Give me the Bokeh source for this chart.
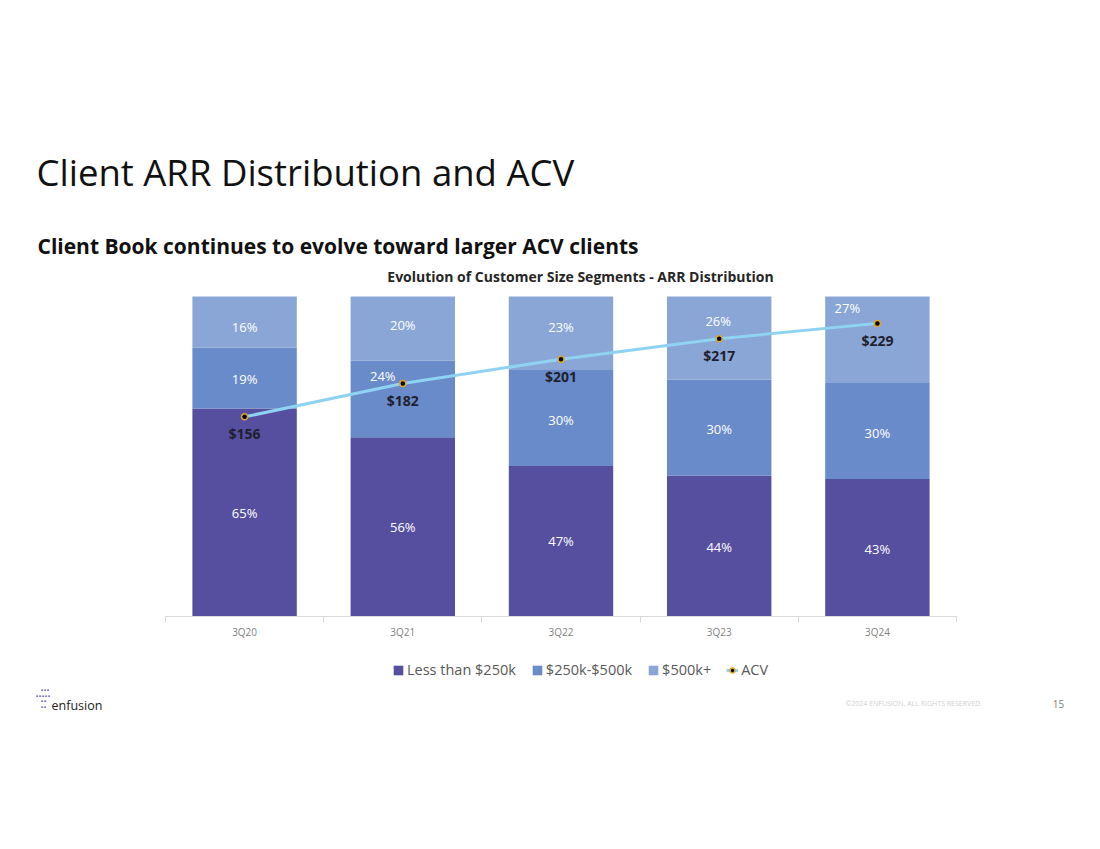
from bokeh.plotting import figure
from bokeh.models import (ColumnDataSource, Range1d, Label, Legend, LegendItem,
                          FixedTicker)
from bokeh.core.properties import value
from bokeh.embed import file_html
from bokeh.resources import INLINE

# ---------------- data ----------------
quarters = ["3Q20", "3Q21", "3Q22", "3Q23", "3Q24"]
less_250k = [65, 56, 47, 44, 43]
k250_500 = [19, 24, 30, 30, 30]
k500_plus = [16, 20, 23, 26, 27]
acv = [156, 182, 201, 217, 229]
segment_names = ["Less than $250k", "$250k-$500k", "$500k+"]

# ---------------- style / layout ----------------
colors = ["#564fa0", "#6a8bc9", "#8aa6d6"]
FONT = "Open Sans"
W, H = 1084, 833
BOTTOM = 40                 # border reserved for the x axis panel
FRAME_H = H - BOTTOM        # frame covers everything above
X0, CAT_W = 165.0, 158.2    # left edge of first category, px per category
Y0, PX_PCT = 616.0, 3.2     # baseline y (px from top), px per percent
PX_ACV = 1.28               # px per $k of ACV

n = len(quarters)
xs = [i + 0.5 for i in range(n)]
src = ColumnDataSource(dict(x=xs, q=quarters, a=less_250k, b=k250_500, c=k500_plus,
                            acv=acv, acv_lbl=["$%d" % v for v in acv]))

p = figure(width=W, height=H,
           x_range=Range1d(-X0 / CAT_W, (W - X0) / CAT_W),
           y_range=Range1d(-(FRAME_H - Y0) / PX_PCT, Y0 / PX_PCT),
           output_backend="svg", toolbar_location=None, y_axis_location=None,
           min_border_left=0, min_border_right=0, min_border_top=0, min_border_bottom=BOTTOM,
           background_fill_color="white", border_fill_color="white")
p.outline_line_color = None
p.xgrid.visible = False
p.ygrid.visible = False

bars = p.vbar_stack(["a", "b", "c"], x="x", width=0.66, color=colors, line_color=None, source=src)

# segment labels
seg_x, seg_y, seg_t, seg_dx, seg_dy = [], [], [], [], []
dx_off = [[0, 0, 0], [0, -20, 0], [0, 0, 0], [0, 0, -1], [0, 0, -30]]
dy_off = [[0, 1, 5], [0, -23, -4], [0, 2, -6], [1, 1, -17], [1, 2, -32]]
for i in range(n):
    vals = [less_250k[i], k250_500[i], k500_plus[i]]
    base = 0
    for j, v in enumerate(vals):
        seg_x.append(xs[i]); seg_y.append(base + v / 2); seg_t.append("%d%%" % v)
        seg_dx.append(dx_off[i][j]); seg_dy.append(dy_off[i][j])
        base += v
seg_src = ColumnDataSource(dict(x=seg_x, y=seg_y, t=seg_t, dx=seg_dx, dy=seg_dy))
p.text(x="x", y="y", text="t", x_offset="dx", y_offset="dy", source=seg_src,
       text_color="white", text_font=value(FONT), text_font_size="13px",
       text_align="center", text_baseline="middle")

# ACV line on secondary range
p.extra_y_ranges = {"acv": Range1d(-(FRAME_H - Y0) / PX_ACV, Y0 / PX_ACV)}
ln = p.line(x="x", y="acv", source=src, y_range_name="acv", line_color="#8fd3f2", line_width=3)
sc = p.scatter(x="x", y="acv", source=src, y_range_name="acv", size=6,
               fill_color="black", line_color="#e0a526", line_width=1.5)
p.text(x="x", y="acv", text="acv_lbl", source=src, y_range_name="acv", y_offset=17,
       text_color="#1f1f2e", text_font=value(FONT), text_font_size="14px",
       text_font_style="bold", text_align="center", text_baseline="middle")

# x axis fixed at the baseline
ax = p.xaxis[0]
ax.fixed_location = 0
ax.bounds = (0, n)
ax.ticker = FixedTicker(ticks=xs, minor_ticks=list(range(n + 1)))
ax.major_label_overrides = {x: q for x, q in zip(xs, quarters)}
ax.axis_line_color = "#d9d9d9"
ax.major_tick_line_color = None
ax.major_tick_in = 0
ax.major_tick_out = 0
ax.minor_tick_line_color = "#d9d9d9"
ax.minor_tick_in = 0
ax.minor_tick_out = 6
ax.major_label_text_color = "#7f7f7f"
ax.major_label_text_font = FONT
ax.major_label_text_font_size = "10px"
ax.major_label_standoff = 2

# page texts: screen units relative to frame bottom-left (X, Y = px from page top-left)
def lbl(X, Y, text, size, color, style="normal", align="left"):
    p.add_layout(Label(x=X, y=FRAME_H - Y, x_units="screen", y_units="screen", text=text,
                       text_font=FONT, text_font_size=size, text_color=color,
                       text_font_style=style, text_align=align, text_baseline="middle"))

# legend
legend = Legend(items=[LegendItem(label=segment_names[k], renderers=[bars[k]]) for k in range(3)]
                + [LegendItem(label="ACV", renderers=[ln, sc])],
                orientation="horizontal", location=(392, FRAME_H - 679),
                label_text_font=FONT, label_text_font_size="14.5px", label_text_color="#595959",
                glyph_width=12, glyph_height=12, label_standoff=3, spacing=15,
                border_line_color=None, background_fill_alpha=0, margin=0, padding=4)
p.add_layout(legend)

lbl(36, 171, "Client ARR Distribution and ACV", "36.5px", "#111111")
lbl(37, 245, "Client Book continues to evolve toward larger ACV clients", "21px", "#111111", "bold")
lbl(580, 276, "Evolution of Customer Size Segments - ARR Distribution", "14px", "#262626", "bold", "center")
lbl(845, 703, "\u00a92024 ENFUSION. ALL RIGHTS RESERVED.", "7px", "#d0d0d0")
lbl(1058, 703, "15", "10px", "#7f7f7f", align="center")
lbl(51, 705, "enfusion", "12.5px", "#222222")
lbl(40, 689, "\u2022\u2022\u2022", "8px", "#6d64b0")
lbl(35, 695, "\u2022\u2022\u2022\u2022\u2022", "8px", "#6d64b0")
lbl(40, 700, "\u2022\u2022", "8px", "#6d64b0")
lbl(40, 706, "\u2022\u2022", "8px", "#6d64b0")

open("out.html", "w").write(file_html(p, INLINE))
